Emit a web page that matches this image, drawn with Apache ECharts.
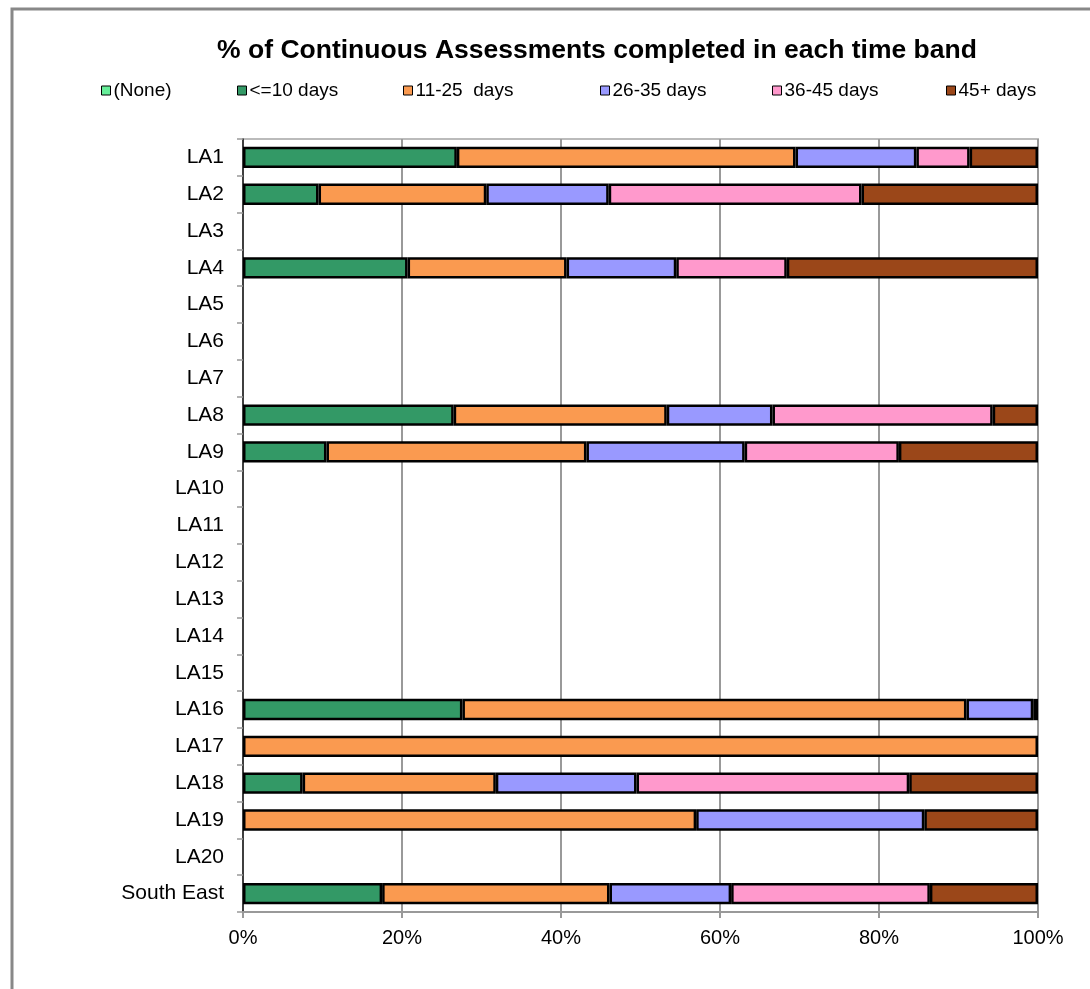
<!DOCTYPE html>
<html>
<head>
<meta charset="utf-8">
<script src="https://cdn.jsdelivr.net/npm/echarts@6/dist/echarts.min.js"></script>
<style>html,body{margin:0;padding:0;background:#fff}#c{width:1090px;height:989px}</style>
</head>
<body>
<div id="c"></div>
<script>
const categories = ['LA1','LA2','LA3','LA4','LA5','LA6','LA7','LA8','LA9','LA10','LA11','LA12','LA13','LA14','LA15','LA16','LA17','LA18','LA19','LA20','South East'];
const seriesNames = ['(None)','<=10 days','11-25  days','26-35 days','36-45 days','45+ days'];
const none      = [null,null,null,null,null,null,null,null,null,null,null,null,null,null,null,null,null,null,null,null,null];
const le10      = [26.9,9.5,null,20.7,null,null,null,26.5,10.5,null,null,null,null,null,null,27.6,null,7.5,null,null,17.5];
const d11_25    = [42.6,21.1,null,20.0,null,null,null,26.8,32.7,null,null,null,null,null,null,63.4,100,24.3,57.0,null,28.6];
const d26_35    = [15.2,15.4,null,13.8,null,null,null,13.3,19.9,null,null,null,null,null,null,8.4,null,17.7,28.7,null,15.3];
const d36_45    = [6.7,31.8,null,13.9,null,null,null,27.7,19.4,null,null,null,null,null,null,null,null,34.3,null,null,25.0];
const d45plus   = [8.6,22.2,null,31.6,null,null,null,5.7,17.5,null,null,null,null,null,null,0.6,null,16.2,14.3,null,13.6];
const xTicks = [0,20,40,60,80,100];

const colors = ['#66EE99','#339966','#FA9A50','#9999FF','#FF99CC','#9B4719'];
const values = [none, le10, d11_25, d26_35, d36_45, d45plus];
const legendLefts = [101, 237, 403, 600, 772, 946];

const chart = echarts.init(document.getElementById('c'), null, {renderer:'canvas'});
const font = 'Liberation Sans, Arial, sans-serif';

chart.setOption({
  animation: false,
  backgroundColor: '#fff',
  textStyle: {fontFamily: font},
  title: {
    text: '% of Continuous Assessments completed in each time band',
    left: 592, top: 32, textAlign: 'center',
    textStyle: {fontFamily: font, fontSize: 26.5, fontWeight: 'bold', color: '#000'}
  },
  legend: seriesNames.map((n, i) => ({
    data: [n], left: legendLefts[i], top: 81, padding: 0,
    itemWidth: 9, itemHeight: 9, itemGap: 4,
    icon: 'rect',
    itemStyle: {borderColor: '#000', borderWidth: 1},
    textStyle: {fontFamily: font, fontSize: 19, color: '#000', padding: [0,0,0,-2]},
    selectedMode: false
  })),
  grid: {left: 243, right: 52, top: 139, bottom: 77, containLabel: false,
         show: true, borderColor: '#bbb', borderWidth: 2},
  xAxis: {
    type: 'value', min: 0, max: 100, interval: 20,
    axisLine: {show: true, lineStyle: {color: '#999', width: 2}},
    axisTick: {show: true, length: 6, lineStyle: {color: '#999', width: 2}},
    axisLabel: {formatter: v => xTicks.includes(v) ? v + '%' : '', fontFamily: font, fontSize: 20, color: '#000', margin: 16},
    splitLine: {show: true, lineStyle: {color: '#999', width: 2}}
  },
  yAxis: {
    type: 'category', data: categories, inverse: true,
    axisLine: {show: true, lineStyle: {color: '#222', width: 1.5}},
    axisTick: {show: true, length: 6, lineStyle: {color: '#999', width: 1.5}},
    axisLabel: {fontFamily: font, fontSize: 21, color: '#000', margin: 19}
  },
  series: seriesNames.map((n, i) => ({
    name: n, type: 'bar', stack: 'total',
    data: values[i],
    barCategoryGap: '42%',
    itemStyle: {color: colors[i], borderColor: '#000', borderWidth: 2.5},
    emphasis: {disabled: true}
  })),
  graphic: [{
    type: 'rect', silent: true, z: 100,
    shape: {x: 12, y: 9, width: 1300, height: 1300},
    style: {fill: 'none', stroke: '#888', lineWidth: 3}
  }]
});
</script>
</body>
</html>
